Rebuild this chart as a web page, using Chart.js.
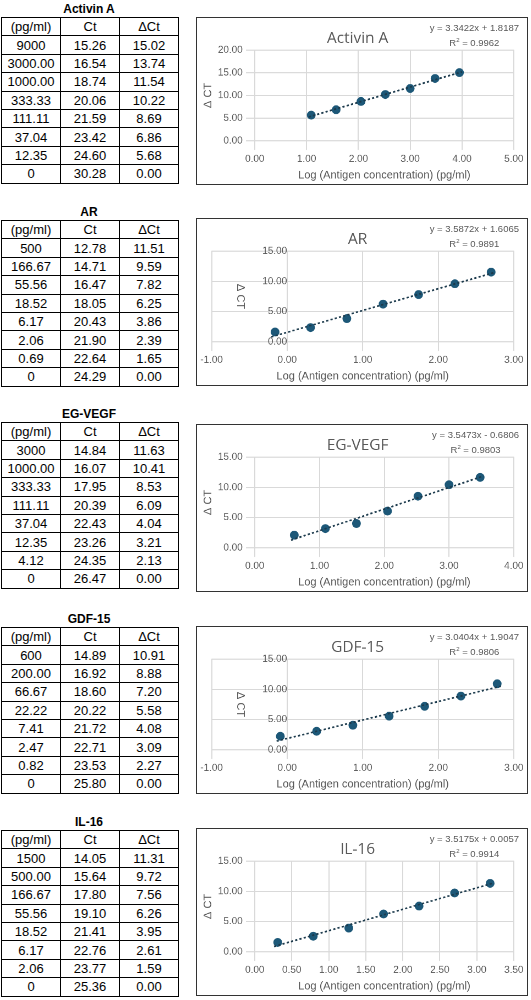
<!DOCTYPE html>
<html><head><meta charset="utf-8">
<script src="https://cdn.jsdelivr.net/npm/chart.js@4"></script>
<style>
body{margin:0;background:#fff;font-family:"Liberation Sans",Arial,sans-serif;width:531px;height:1000px;position:relative;overflow:hidden}
.ttl{position:absolute;left:0;width:178px;text-align:center;font-weight:bold;font-size:12px}
table{position:absolute;left:1px;border-collapse:collapse;font-size:13px;width:178px}
td{border:1px solid #000;height:17.4px;padding:0;text-align:center;width:58px}
.box{position:absolute;left:196px;width:330px;height:166px;border:1px solid #333}
.eq{position:absolute;right:8px;top:3px;font-size:9.5px;color:#595959;text-align:center;line-height:13px}
canvas{position:absolute;left:0;top:0}
</style></head><body>
<script>
const names=["Activin A","AR","EG-VEGF","GDF-15","IL-16"];
const conc=[["9000","3000.00","1000.00","333.33","111.11","37.04","12.35","0"],
["500","166.67","55.56","18.52","6.17","2.06","0.69","0"],
["3000","1000.00","333.33","111.11","37.04","12.35","4.12","0"],
["600","200.00","66.67","22.22","7.41","2.47","0.82","0"],
["1500","500.00","166.67","55.56","18.52","6.17","2.06","0"]];
const ct=[[15.26,16.54,18.74,20.06,21.59,23.42,24.60,30.28],
[12.78,14.71,16.47,18.05,20.43,21.90,22.64,24.29],
[14.84,16.07,17.95,20.39,22.43,23.26,24.35,26.47],
[14.89,16.92,18.60,20.22,21.72,22.71,23.53,25.80],
[14.05,15.64,17.80,19.10,21.41,22.76,23.77,25.36]];
const dct=[[15.02,13.74,11.54,10.22,8.69,6.86,5.68,0],
[11.51,9.59,7.82,6.25,3.86,2.39,1.65,0],
[11.63,10.41,8.53,6.09,4.04,3.21,2.13,0],
[10.91,8.88,7.20,5.58,4.08,3.09,2.27,0],
[11.31,9.72,7.56,6.26,3.95,2.61,1.59,0]];
const logX=[[3.95,3.48,3.00,2.52,2.05,1.57,1.09],
[2.70,2.22,1.74,1.27,0.79,0.31,-0.16],
[3.48,3.00,2.52,2.05,1.57,1.09,0.61],
[2.78,2.30,1.82,1.35,0.87,0.39,-0.09],
[3.18,2.70,2.22,1.74,1.27,0.79,0.31]];
const slope=[3.3422,3.5872,3.5473,3.0404,3.5175];
const intercept=[1.8187,1.6065,-0.6806,1.9047,0.0057];
const r2=["0.9962","0.9891","0.9803","0.9806","0.9914"];
const eqText=["y = 3.3422x + 1.8187","y = 3.5872x + 1.6065","y = 3.5473x - 0.6806","y = 3.0404x + 1.9047","y = 3.5175x + 0.0057"];
const xRange=[[0,5,1],[-1,3,1],[0,4,1],[-1,3,1],[0,3.5,0.5]];
const yRange=[[0,20,5],[0,15,5],[0,15,5],[0,15,5],[0,15,5]];
const tops=[17,220,422,627,830];
const boxTops=[17,218,424,626,828];

names.forEach((n,i)=>{
  const t=document.createElement('div');t.className='ttl';t.style.top=(tops[i]-15)+'px';t.textContent=n;document.body.appendChild(t);
  const tb=document.createElement('table');tb.style.top=tops[i]+'px';
  let h='<tr><td>(pg/ml)</td><td>Ct</td><td>ΔCt</td></tr>';
  for(let r=0;r<8;r++)h+=`<tr><td>${conc[i][r]}</td><td>${ct[i][r].toFixed(2)}</td><td>${dct[i][r].toFixed(2)}</td></tr>`;
  tb.innerHTML=h;document.body.appendChild(tb);
  const box=document.createElement('div');box.className='box';box.style.top=boxTops[i]+'px';
  const cv=document.createElement('canvas');box.appendChild(cv);
  const eq=document.createElement('div');eq.className='eq';eq.innerHTML=eqText[i]+'<br>R<sup style="font-size:6px">2</sup> = '+r2[i];
  box.appendChild(eq);
  document.body.appendChild(box);
  const pts=logX[i].map((x,k)=>({x,y:dct[i][k]}));
  const xs=logX[i];const xmin=Math.min(...xs),xmax=Math.max(...xs);
  const yPos=xRange[i][0]<0?{x:0}:'left';
  new Chart(cv,{type:'scatter',data:{datasets:[
    {data:[{x:xmin-0.05,y:slope[i]*(xmin-0.05)+intercept[i]},{x:xmax+0.05,y:slope[i]*(xmax+0.05)+intercept[i]}],showLine:true,borderColor:'#1c3a4c',borderDash:[2,2],borderWidth:1.5,pointRadius:0},
    {data:pts,backgroundColor:'#1d5878',borderColor:'#1d5878',pointRadius:3.5}]},
   options:{responsive:false,animation:false,devicePixelRatio:2,
    layout:{padding:{left:4,right:12,top:4,bottom:2}},
    plugins:{legend:{display:false},tooltip:{enabled:false},
      title:{display:true,text:n,color:'#595959',font:{size:14,family:'Open Sans',weight:'normal'},padding:{top:6,bottom:2}}},
    scales:{x:{type:'linear',min:xRange[i][0],max:xRange[i][1],ticks:{stepSize:xRange[i][2],callback:v=>v.toFixed(2),color:'#595959',font:{size:9}},grid:{color:'#d9d9d9'},border:{display:false},
       title:{display:true,text:'Log (Antigen concentration) (pg/ml)',color:'#595959',font:{size:10},padding:0}},
     y:{position:yPos,min:yRange[i][0],max:yRange[i][1],ticks:{stepSize:yRange[i][2],callback:v=>v.toFixed(2),color:'#595959',font:{size:9}},grid:{color:'#d9d9d9'},border:{display:false},
       title:{display:true,text:'Δ CT',color:'#595959',font:{size:10},padding:0}}}}});
  cv.style.width='330px';cv.style.height='166px';
});
</script>
</body></html>
